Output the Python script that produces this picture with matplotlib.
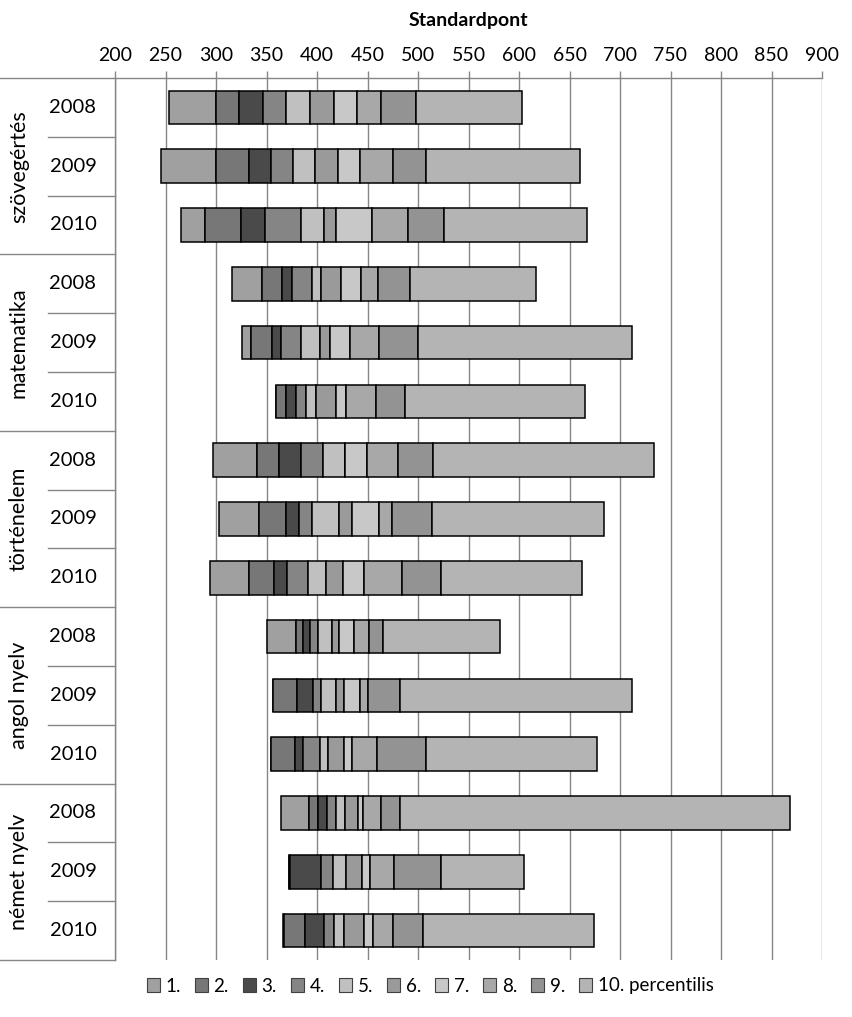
import matplotlib
matplotlib.use("Agg")
import matplotlib.pyplot as plt
from matplotlib.patches import Patch
from matplotlib.transforms import blended_transform_factory
import numpy as np

plt.rcParams['font.family'] = ['Lato', 'DejaVu Sans']

subjects = ['szövegértés', 'matematika', 'történelem', 'angol nyelv', 'német nyelv']
years = ['2008', '2009', '2010']
series_labels = ['1.', '2.', '3.', '4.', '5.', '6.', '7.', '8.', '9.', '10. percentilis']
xticks = [200, 250, 300, 350, 400, 450, 500, 550, 600, 650, 700, 750, 800, 850, 900]

# invisible offset (start of each bar), rows top to bottom
starts = [253.5, 245.6, 265.0, 316.3, 326.2, 359.7, 297.0, 303.0, 294.1,
          350.6, 356.5, 354.5, 364.4, 371.9, 366.0]
# widths of each percentile segment, rows top to bottom
p1 = [46.5, 54.4, 23.7, 29.7, 8.9, 0.0, 43.9, 39.9, 38.9, 28.6, 0.0, 0.0, 27.7, 0.5, 1.0]
p2 = [22.8, 32.7, 35.6, 19.2, 19.9, 9.5, 21.7, 26.7, 24.3, 7.4, 23.7, 23.8, 8.9, 0.5, 20.7]
p3 = [23.7, 21.7, 24.2, 9.6, 8.9, 9.9, 21.4, 12.9, 13.3, 6.9, 15.9, 8.3, 8.9, 30.7, 18.8]
p4 = [22.8, 21.8, 35.6, 19.8, 19.8, 9.9, 21.7, 12.8, 20.4, 7.9, 7.9, 16.4, 8.5, 11.8, 9.9]
p5 = [23.7, 21.8, 22.8, 8.9, 18.8, 9.9, 21.8, 26.3, 17.8, 13.5, 15.2, 7.9, 8.9, 13.3, 9.9]
p6 = [23.4, 22.8, 11.9, 20.2, 9.9, 19.8, 0.0, 13.3, 17.2, 6.9, 7.5, 15.9, 12.9, 15.4, 19.8]
p7 = [23.2, 21.7, 35.6, 19.8, 19.8, 9.8, 21.7, 26.3, 20.3, 15.2, 16.2, 7.9, 5.3, 7.9, 9.8]
p8 = [23.3, 32.7, 35.6, 16.8, 28.7, 29.7, 31.1, 13.2, 37.6, 14.4, 7.9, 24.7, 17.4, 24.7, 19.8]
p9 = [34.7, 32.7, 35.3, 31.7, 39.0, 28.7, 34.3, 39.6, 38.6, 14.3, 31.6, 48.4, 18.8, 46.5, 29.7]
p10 = [104.9, 152.4, 142.5, 125.3, 211.5, 178.0, 218.8, 170.6, 139.4, 115.5, 229.1, 169.6, 387.1, 81.8, 169.0]

colors = ['#a0a0a0', '#777777', '#4a4a4a', '#858585', '#c0c0c0',
          '#9a9a9a', '#c8c8c8', '#a8a8a8', '#939393', '#b4b4b4']
segments = [p1, p2, p3, p4, p5, p6, p7, p8, p9, p10]

fig = plt.figure(figsize=(8.52, 10.17), dpi=100)
L, R, T, B = 115, 822, 78, 960
W, H = 852, 1017
ax = fig.add_axes([L / W, 1 - B / H, (R - L) / W, (B - T) / H])

n = len(starts)
ypos = np.arange(n)
left = np.array(starts, dtype=float)
for seg, col in zip(segments, colors):
    vals = np.array(seg, dtype=float)
    ax.barh(ypos, vals, left=left, height=0.57, color=col,
            edgecolor='black', linewidth=1.1, zorder=3)
    left = left + vals

ax.set_xlim(200, 900)
ax.set_ylim(n - 0.5, -0.5)
ax.set_xticks(xticks)
ax.xaxis.tick_top()
ax.xaxis.set_label_position('top')
ax.set_xlabel('Standardpont', fontsize=14, fontweight='bold', labelpad=15)
ax.tick_params(axis='x', labelsize=14, length=5, color='#868686', width=1, pad=5)
ax.set_yticks([])
ax.grid(axis='x', color='#868686', linewidth=1.0, zorder=0)
for s in ['right', 'bottom']:
    ax.spines[s].set_visible(False)
for s in ['top', 'left']:
    ax.spines[s].set_color('#868686')
    ax.spines[s].set_linewidth(1.0)

# category labels on the left
trans = blended_transform_factory(ax.transAxes, ax.transData)
axw = R - L
x0 = -L / axw
xyear_line = -(L - 48) / axw
xyear = -(L - 73) / axw
xsubj = -(L - 19) / axw
line_kw = dict(color='#868686', linewidth=1.0, clip_on=False, transform=trans)
for g, subj in enumerate(subjects):
    top = g * 3 - 0.5
    ax.plot([x0, 0], [top, top], **line_kw)
    for k, yr in enumerate(years):
        r = g * 3 + k
        ax.text(xyear, r, yr, transform=trans, ha='center', va='center', fontsize=14.5)
        if k > 0:
            ax.plot([xyear_line, 0], [r - 0.5, r - 0.5], **line_kw)
    ax.text(xsubj, g * 3 + 1, subj, transform=trans, ha='center', va='center',
            rotation=90, fontsize=15.5)
ax.plot([x0, 0], [n - 0.5, n - 0.5], **line_kw)

handles = [Patch(facecolor=c, edgecolor='#404040', linewidth=0.8) for c in colors]
fig.legend(handles, series_labels, loc='center', bbox_to_anchor=(0.505, 1 - 986 / H),
           ncol=10, frameon=False, fontsize=13.5, handlelength=0.7, handleheight=0.7,
           handletextpad=0.3, columnspacing=0.75)

fig.savefig('out.png', dpi=100)
